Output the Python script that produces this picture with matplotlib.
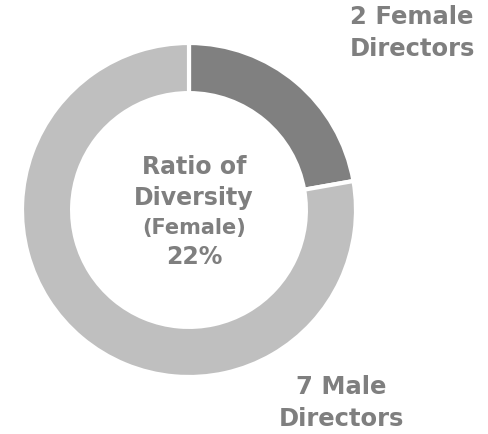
import matplotlib
matplotlib.use("Agg")
import matplotlib.pyplot as plt

labels = ["2 Female\nDirectors", "7 Male\nDirectors"]
values = [2, 7]
colors = ["#808080", "#bfbfbf"]
center_lines = ["Ratio of", "Diversity", "(Female)", "22%"]

W, H = 488, 435
fig = plt.figure(figsize=(W / 100, H / 100), dpi=100)
cx, cy, r = 189, 211, 167
ax = fig.add_axes([(cx - r) / W, (H - cy - r) / H, 2 * r / W, 2 * r / H])
ax.pie(values, colors=colors, startangle=90, counterclock=False, radius=1,
       wedgeprops=dict(width=0.30, edgecolor="white", linewidth=3))
ax.set_xlim(-1, 1)
ax.set_ylim(-1, 1)
ax.set_aspect("equal")
ax.axis("off")

tc = "#7f7f7f"
def px(x, y):
    return x / W, 1 - y / H

sizes = [17, 17, 15, 17]
ys = [167, 198, 228, 257]
for t, s, y in zip(center_lines, sizes, ys):
    fig.text(*px(194, y), t, ha="center", va="center", fontsize=s,
             fontweight="bold", color=tc, family="DejaVu Sans")

fig.text(*px(412, 33), labels[0], ha="center", va="center", fontsize=17.5,
         fontweight="bold", color=tc, linespacing=1.45)
fig.text(*px(341, 403), labels[1], ha="center", va="center", fontsize=17.5,
         fontweight="bold", color=tc, linespacing=1.45)

fig.savefig("out.png", dpi=100, facecolor="white")
